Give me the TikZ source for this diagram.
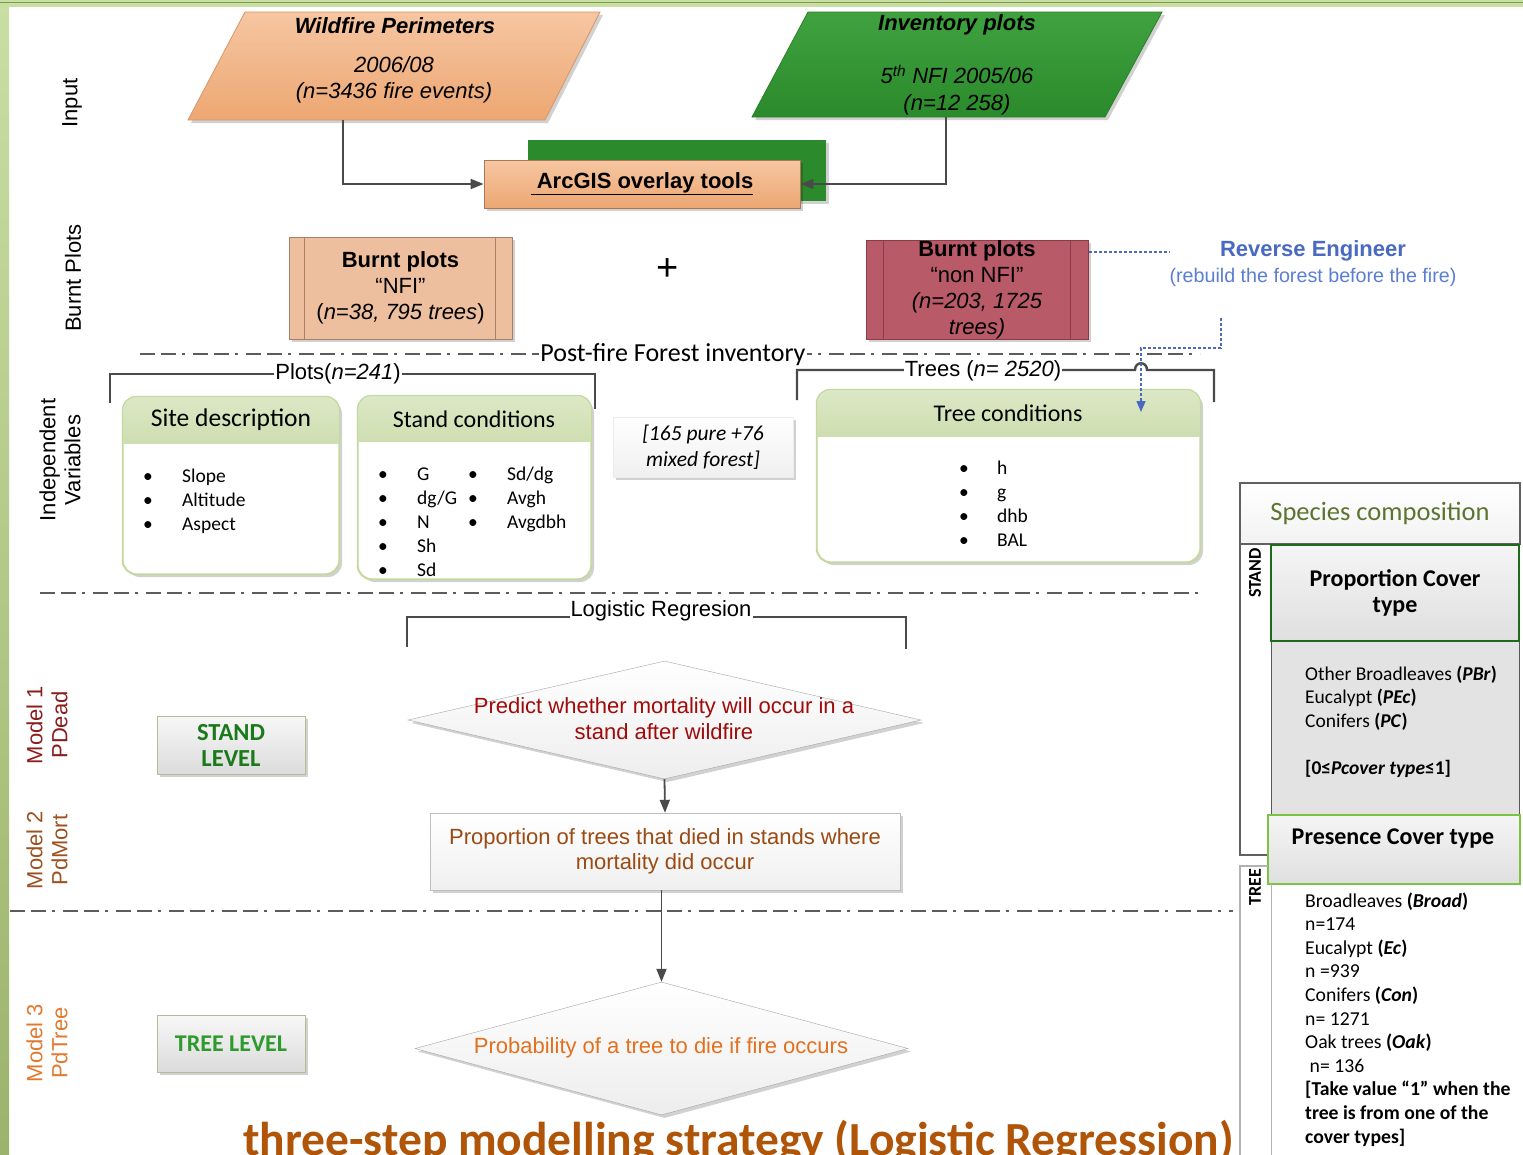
\documentclass[tikz,border=0pt]{standalone}
\usepackage{fontspec}
\setmainfont{Liberation Sans}
\newfontfamily\carl{Carlito}
\usetikzlibrary{shapes.geometric,arrows.meta,shadows}
\definecolor{orgA}{HTML}{F6C6A2}
\definecolor{orgB}{HTML}{EDA772}
\definecolor{orgE}{HTML}{D8956A}
\definecolor{grnA}{HTML}{3FA23F}
\definecolor{grnB}{HTML}{2B8A2B}
\definecolor{grnE}{HTML}{2A7F2A}
\definecolor{bpA}{HTML}{EDBF9F}
\definecolor{bpE}{HTML}{A8806A}
\definecolor{rose}{HTML}{B95A69}
\definecolor{roseE}{HTML}{8C3B4A}
\definecolor{hdrA}{HTML}{DCE8C6}
\definecolor{hdrB}{HTML}{A9C173}
\definecolor{hdrE}{HTML}{C3D99F}
\definecolor{lineG}{HTML}{4A4A4A}
\definecolor{reBlue}{HTML}{4A69C0}
\definecolor{reBlue2}{HTML}{5C7ED2}
\definecolor{m1}{HTML}{8B1C1C}
\definecolor{m2}{HTML}{9C5220}
\definecolor{m3}{HTML}{E07A30}
\definecolor{d1txt}{HTML}{A00A0A}
\definecolor{b2txt}{HTML}{9A4A12}
\definecolor{d2txt}{HTML}{E2701E}
\definecolor{lvl1}{HTML}{1A7A1A}
\definecolor{lvl2}{HTML}{2E9A2E}
\definecolor{ttl}{HTML}{B05407}
\definecolor{olive}{HTML}{5D7430}
\definecolor{pcE}{HTML}{1E6B1E}
\definecolor{prE}{HTML}{7CC243}
\definecolor{barA}{HTML}{C9DEA3}
\definecolor{barB}{HTML}{9CB36C}
\definecolor{barD}{HTML}{7E9C4E}
\newcommand\fsz[2]{\fontsize{#1}{#2}\selectfont}
\begin{document}
\begin{tikzpicture}[x=1pt,y=-1pt,
  conn/.style={draw=lineG, line width=1.8pt, -{Triangle[length=13pt,width=10pt]}},
  brk/.style={draw=lineG, line width=2.4pt},
  dd/.style={draw=lineG!90!white, line width=2.4pt, dash pattern=on 15pt off 6pt on 15pt off 6pt on 3pt off 8pt},
  bdot/.style={draw=reBlue, line width=1.3pt, dash pattern=on 3pt off 2pt},
  shad/.style={drop shadow={shadow xshift=3pt,shadow yshift=-3pt,opacity=0.18,fill=black}},
  sidelbl/.style={rotate=90, font=\fsz{22}{25}, align=center, inner sep=0},
  rbox/.style={draw=hdrE, line width=1.2pt, fill=white, rounded corners=14pt, inner sep=0, shad},
  lst/.style={font=\carl\fsz{19.5}{24}, inner sep=0, anchor=base west},
  lvl/.style={draw=hdrE!70!gray, top color=gray!6, bottom color=gray!28, minimum width=148pt, minimum height=58pt, inner sep=0, shad, align=center},
  dmd/.style={diamond, draw=gray!70, top color=white, bottom color=gray!14, inner sep=0, shad},
]
\useasboundingbox (0,0) rectangle (1523,1154);
\fill[white] (0,0) rectangle (1523,1154);
% frame
\fill[top color=barA, bottom color=barB] (0,0) rectangle (9,1154);
\fill[barA] (0,0) rectangle (1523,7);
\draw[barD, line width=1.2pt] (0,2.5) -- (1523,2.5);

% ---- Input
\path[draw=orgE, line width=0.8pt, top color=orgA, bottom color=orgB, shad] (245,12) -- (600,12) -- (545,120) -- (188,120) -- cycle;
\coordinate (wfOut) at (343,120);
\node[font=\fsz{22}{24}\bfseries\itshape] (wfT) at (395,26) {Wildfire Perimeters};
\node[font=\fsz{22}{26}\itshape, align=center] (wfB) at (394,80) {2006/08\\(n=3436 fire events)};

\path[draw=grnE, line width=0.8pt, top color=grnA, bottom color=grnB, shad] (808,12) -- (1162,12) -- (1105,117) -- (752,117) -- cycle;
\coordinate (invOut) at (946,117);
\node[font=\fsz{22}{24}\bfseries\itshape] (invT) at (957,25) {Inventory plots};
\node[font=\fsz{22}{27}\itshape, align=center] (invB) at (957,90) {5\textsuperscript{th} NFI 2005/06\\(n=12 258)};

\fill[grnB, shad] (528,140) rectangle (826,201);
\node[draw=orgE!80!black, line width=0.8pt, top color=orgA, bottom color=orgB, minimum width=316pt, minimum height=48pt, inner sep=0, shad, font=\fsz{22}{24}\bfseries] (arc) at (642,184) {\raisebox{-2pt}{\underline{\ ArcGIS overlay tools}}};
\draw[conn] (wfOut) |- (arc.west);
\draw[conn] (invOut) |- (arc.east);

% ---- Burnt plots
\node[draw=bpE, line width=0.8pt, fill=bpA, minimum width=223pt, minimum height=102pt, inner sep=0, shad, align=center, font=\fsz{22}{26}] (nfi) at (400.5,288) {\textbf{Burnt plots}\\“NFI”\\(\textit{n=38, 795 trees})};
\draw[bpE, line width=0.8pt] ([xshift=16pt]nfi.north west) -- ([xshift=16pt]nfi.south west);
\draw[bpE, line width=0.8pt] ([xshift=-17pt]nfi.north east) -- ([xshift=-17pt]nfi.south east);
\node[font=\fsz{38}{38}] (plus) at (668,270) {+};
\node[draw=roseE, line width=0.8pt, fill=rose, minimum width=222pt, minimum height=99pt, inner sep=0, shad, align=center, font=\fsz{22}{26}] (nnfi) at (977,289.5) {\textbf{Burnt plots}\\“non NFI”\\\textit{(n=203, 1725}\\\textit{trees)}};
\draw[roseE, line width=0.8pt] ([xshift=18pt]nnfi.north west) -- ([xshift=18pt]nnfi.south west);
\draw[roseE, line width=0.8pt] ([xshift=-18pt]nnfi.north east) -- ([xshift=-18pt]nnfi.south east);

\node[align=center, inner sep=0, font=\fsz{20}{26}] (re) at (1313,264) {{\fsz{22}{26}\bfseries\color{reBlue}Reverse Engineer}\\{\fsz{19.7}{26}\color{reBlue2}(rebuild the forest before the fire)}};
\coordinate (reS) at (1089,252);
\draw[bdot] (reS) -- (reS -| re.west);

% ---- post-fire line and brackets
\draw[dd] (140,354) -- (1200,354);
\node[fill=white, inner sep=1pt, font=\carl\fsz{26}{28}] (pf) at (673,355) {Post-fire Forest inventory};
\draw[brk] (110,403) |- (595,374) -- (595,409);
\node[fill=white, inner sep=1pt, font=\fsz{22}{24}] (plots) at (338,374) {Plots(\textit{n=241})};
\draw[brk] (797,400) -- (797,370) -- (1135,370) .. controls (1135,361) and (1147,361) .. (1147,370) -- (1214,370) -- (1214,402);
\node[fill=white, inner sep=1pt, font=\fsz{22}{24}] (trees) at (983,371) {Trees (\textit{n= 2520})};

% ---- Site description
\node[rbox, minimum width=216pt, minimum height=177pt] (site) at (231,485.5) {};
\begin{scope}
\clip (100,380) rectangle (360,443);
\fill[top color=hdrA, bottom color=hdrB, rounded corners=14pt] (site.north west) rectangle (site.south east);
\end{scope}
\draw[hdrE, line width=1.2pt, rounded corners=14pt] (site.north west) rectangle (site.south east);
\node[font=\carl\fsz{25.5}{28}] (siteT) at (231,420) {Site description};
\node[lst] (siteL) at (143,482) {\begin{tabular}[t]{@{}p{39pt}@{}l@{}}\textbullet & Slope\\ \textbullet & Altitude\\ \textbullet & Aspect\end{tabular}};

% ---- Stand conditions
\node[rbox, minimum width=233pt, minimum height=183pt] (stand) at (474.5,487.5) {};
\begin{scope}
\clip (340,380) rectangle (600,441);
\fill[top color=hdrA, bottom color=hdrB, rounded corners=14pt] (stand.north west) rectangle (stand.south east);
\end{scope}
\draw[hdrE, line width=1.2pt, rounded corners=14pt] (stand.north west) rectangle (stand.south east);
\node[font=\carl\fsz{24}{26}] (standT) at (474,419) {Stand conditions};
\node[lst] (standL) at (378,480) {\begin{tabular}[t]{@{}p{39pt}@{}p{51pt}@{}p{39pt}@{}l@{}}\textbullet & G & \textbullet & Sd/dg\\ \textbullet & dg/G & \textbullet & Avgh\\ \textbullet & N & \textbullet & Avgdbh\\ \textbullet & Sh & & \\ \textbullet & Sd & & \end{tabular}};

\node[draw=gray!15, top color=white, bottom color=gray!12, minimum width=180pt, minimum height=60pt, inner sep=0, shad, align=center, font=\carl\itshape\fsz{21.5}{26}] (mix) at (703,447) {[165 pure +76\\mixed forest]};

% ---- Tree conditions
\node[rbox, minimum width=383pt, minimum height=172pt] (tree) at (1008.5,476) {};
\begin{scope}
\clip (800,380) rectangle (1220,436);
\fill[top color=hdrA, bottom color=hdrB, rounded corners=14pt] (tree.north west) rectangle (tree.south east);
\end{scope}
\draw[hdrE, line width=1.2pt, rounded corners=14pt] (tree.north west) rectangle (tree.south east);
\node[font=\carl\fsz{24}{26}] (treeT) at (1008,413) {Tree conditions};
\node[lst] (treeL) at (959,474) {\begin{tabular}[t]{@{}p{38pt}@{}l@{}}\textbullet & h\\ \textbullet & g\\ \textbullet & dhb\\ \textbullet & BAL\end{tabular}};

\coordinate (reA) at (1221,318);
\coordinate (reB) at (1141,348);
\coordinate (reEnd) at (1141,412);
\draw[bdot, -{Triangle[length=11pt,width=9pt]}] (reA) |- (reB) -- (reEnd);

% ---- models
\draw[dd] (40,593) -- (1200,593);
\draw[brk] (407,647) |- (906,617) -- (906,649);
\node[fill=white, inner sep=1pt, font=\fsz{22}{24}] (logr) at (661,611) {Logistic Regresion};

\node[dmd, minimum width=513pt, minimum height=118pt] (d1) at (664.5,720) {};
\node[align=center, font=\fsz{22}{26}, text=d1txt] (d1t) at (664,719) {Predict whether mortality will occur in a\\stand after wildfire};
\node[draw=gray!50, top color=white, bottom color=gray!12, minimum width=470pt, minimum height=77pt, inner sep=0, shad, align=center, font=\fsz{22}{25}, text=b2txt] (b2) at (665,851.5) {Proportion of trees that died in stands where\\mortality did occur};
\draw[conn] (d1.south) -- (b2.north);

\draw[dd] (10,911) -- (1233,911);
\node[dmd, minimum width=493pt, minimum height=133pt] (d2) at (661.5,1048.5) {};
\node[font=\fsz{22}{24}, text=d2txt] (d2t) at (661,1048) {Probability of a tree to die if fire occurs};
\draw[conn] (b2.south -| d2.north) -- (d2.north);

\node[lvl, font=\carl\bfseries\fsz{24.5}{26}, text=lvl1] (stl) at (231,745) {STAND\\LEVEL};
\node[lvl, minimum height=57pt, font=\carl\bfseries\fsz{24}{26}, text=lvl2] (trl) at (231,1043.5) {TREE LEVEL};

% ---- side labels
\node[sidelbl] (lIn) at (72,103) {Input};
\node[sidelbl] (lBP) at (73,278) {Burnt Plots};
\node[sidelbl] (lIV) at (60,460) {Independent\\Variables};
\node[sidelbl, text=m1] (lM1) at (47,725) {Model 1\\PDead};
\node[sidelbl, text=m2] (lM2) at (47,850) {Model 2\\PdMort};
\node[sidelbl, text=m3] (lM3) at (47,1043) {Model 3\\PdTree};

% ---- species composition panel
\node[draw=gray!75!black, line width=1.5pt, top color=white, bottom color=gray!10, minimum width=280pt, minimum height=61pt, inner sep=0, font=\carl\fsz{26.5}{28}, text=olive] (spc) at (1380,513.5) {Species composition};
\draw[gray!75!black, line width=1.5pt] (1240,544) -- (1240,855) -- (1268,855);
\node[rotate=90, font=\carl\bfseries\fsz{18}{18}] (stS) at (1255,573) {STAND};
\node[fill=gray!22, draw=gray!70!black, line width=1pt, minimum width=248pt, minimum height=174pt, inner sep=0] (pcBody) at (1395,728) {};
\node[draw=pcE, line width=2.5pt, top color=gray!8, bottom color=gray!25, minimum width=248pt, minimum height=96pt, inner sep=0, align=center, font=\carl\bfseries\fsz{24}{26}] (pc) at (1395,593) {Proportion Cover\\type};
\node[lst, font=\carl\fsz{19.5}{23.5}] (pcL) at (1305,680) {\begin{tabular}[t]{@{}l@{}}Other Broadleaves \textbf{(\textit{PBr})}\\Eucalypt \textbf{(\textit{PEc})}\\Conifers \textbf{(\textit{PC})}\\ \\ \textbf{[0≤\textit{Pcover type}≤1]}\end{tabular}};
\node[draw=prE, line width=2.5pt, top color=gray!8, bottom color=gray!25, minimum width=252pt, minimum height=69pt, inner sep=0] (prc) at (1394,849.5) {};
\node[font=\carl\bfseries\fsz{24}{26}] (prcT) at (1393,839) {Presence Cover type};
\draw[gray!60, line width=1.5pt] (1240,1160) -- (1240,866) -- (1268,866);
\draw[gray!60, line width=1pt] (1271,884) -- (1271,1160);
\node[rotate=90, font=\carl\bfseries\fsz{18}{18}] (trS) at (1255,887) {TREE};
\node[lst, font=\carl\fsz{19.7}{23.6}] (trL) at (1305,907) {\begin{tabular}[t]{@{}l@{}}Broadleaves \textbf{(\textit{Broad})}\\n=174\\Eucalypt \textbf{(\textit{Ec})}\\n =939\\Conifers \textbf{(\textit{Con})}\\n= 1271\\Oak trees \textbf{(\textit{Oak})}\\\ n= 136\\\textbf{[Take value “1” when the}\\\textbf{tree is from one of the}\\\textbf{cover types]}\end{tabular}};

% ---- title
\node[font=\carl\bfseries\fsz{47.5}{50}, text=ttl, anchor=base, inner sep=0] (title) at (738.5,1155) {three-step modelling strategy (Logistic Regression)};
\end{tikzpicture}
\end{document}
